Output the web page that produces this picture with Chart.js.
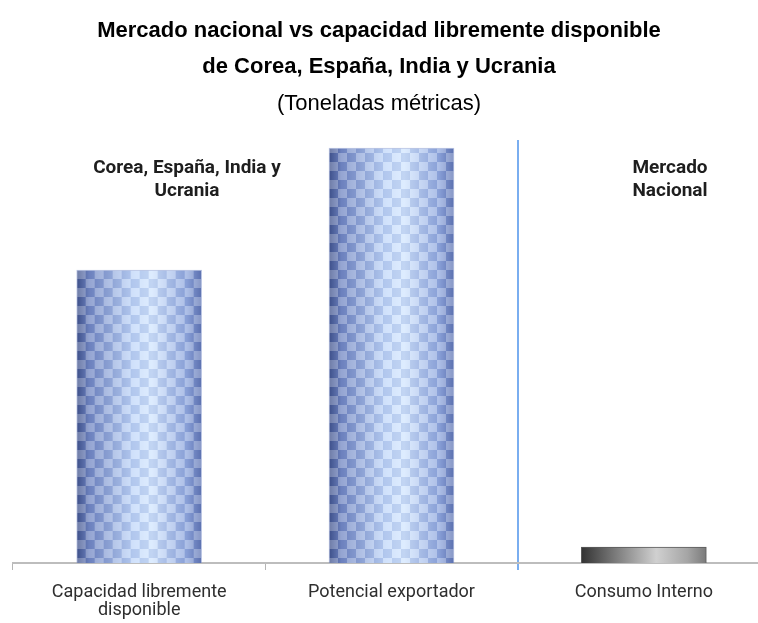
<!DOCTYPE html>
<html>
<head>
<meta charset="utf-8">
<script src="https://cdn.jsdelivr.net/npm/chart.js@4.4.1/dist/chart.umd.min.js"></script>
<style>
  html, body { margin: 0; padding: 0; background: #ffffff; overflow: hidden; }
  #wrap { position: relative; width: 758px; height: 623px; overflow: hidden; }
  #c { position: absolute; left: 0; top: 0; }
  .t { position: absolute; left: 0; width: 758px; text-align: center; color: #000;
       font-family: "Liberation Sans", Arial, sans-serif; white-space: nowrap; }
  .ann { position: absolute; text-align: center; color: #1e1e1e; font-weight: bold;
         font-family: Roboto, "Liberation Sans", sans-serif;
         font-size: 19px; line-height: 23px; white-space: nowrap; }
</style>
</head>
<body>
<div id="wrap">
  <canvas id="c" width="770" height="623"></canvas>
  <div class="t" style="top:17px;font-size:22px;font-weight:bold;">Mercado nacional vs capacidad libremente disponible</div>
  <div class="t" style="top:53px;font-size:22px;font-weight:bold;">de Corea, España, India y Ucrania</div>
  <div class="t" style="top:90px;font-size:22px;">(Toneladas métricas)</div>
  <div class="ann" style="left:77px;top:155px;width:220px;">Corea, España, India y<br>Ucrania</div>
  <div class="ann" style="left:605px;top:155px;width:130px;">Mercado<br>Nacional</div>
</div>
<script>
// Data (relative tonnage; no value axis is shown)
const categories = [["Capacidad libremente", "disponible"], "Potencial exportador", "Consumo Interno"];
const values = [2930, 4150, 160];
const valueMax = 4230;

function blueChecker(ctx, left, width) {
  const tile = document.createElement('canvas');
  const cell = 9;
  tile.width = Math.max(1, Math.round(width));
  tile.height = cell * 2;
  const t = tile.getContext('2d');
  const g = t.createLinearGradient(0, 0, tile.width, 0);
  g.addColorStop(0, '#41538a');
  g.addColorStop(0.1, '#7489c4');
  g.addColorStop(0.45, '#c2d8fa');
  g.addColorStop(0.6, '#d4e7ff');
  g.addColorStop(0.88, '#94abe0');
  g.addColorStop(1, '#6277b4');
  t.fillStyle = g;
  t.fillRect(0, 0, tile.width, tile.height);
  for (let r = 0; r < 2; r++) {
    for (let c = 0; c * cell < tile.width; c++) {
      t.fillStyle = ((r + c) % 2 === 0) ? 'rgba(255,255,255,0.24)' : 'rgba(40,60,140,0.10)';
      t.fillRect(c * cell, r * cell, cell, cell);
    }
  }
  const p = ctx.createPattern(tile, 'repeat');
  if (p.setTransform) p.setTransform(new DOMMatrix().translate(left, 0));
  return p;
}

function grayBar(ctx, left, width) {
  const g = ctx.createLinearGradient(left, 0, left + width, 0);
  g.addColorStop(0, '#333333');
  g.addColorStop(0.25, '#757575');
  g.addColorStop(0.6, '#d0d0d0');
  g.addColorStop(0.85, '#a5a5a5');
  g.addColorStop(1, '#7a7a7a');
  return g;
}

const BAR_W = 125;

const chart = new Chart(document.getElementById('c'), {
  type: 'bar',
  data: {
    labels: categories,
    datasets: [{
      data: values,
      barThickness: BAR_W,
      borderSkipped: 'bottom',
      borderWidth: 1,
      borderColor: (ctx) => ctx.dataIndex === 2 ? '#5a5a5a' : 'rgba(120,140,200,0.5)',
      backgroundColor: (ctx) => {
        const chart = ctx.chart;
        const xs = chart.scales && chart.scales.x;
        if (!xs || !chart.chartArea) return ctx.dataIndex === 2 ? '#999' : '#a8c0ee';
        const cx = xs.getPixelForValue(ctx.dataIndex);
        const left = cx - BAR_W / 2;
        return ctx.dataIndex === 2 ? grayBar(chart.ctx, left, BAR_W) : blueChecker(chart.ctx, left, BAR_W);
      }
    }]
  },
  options: {
    responsive: false,
    animation: false,
    layout: { padding: { top: 140, left: 13, right: 0, bottom: 0 } },
    plugins: { legend: { display: false }, tooltip: { enabled: false }, title: { display: false } },
    scales: {
      x: {
        offset: true,
        grid: {
          offset: true,
          drawOnChartArea: true,
          color: (c) => c.index === 2 ? '#7aaef0' : 'rgba(0,0,0,0)',
          tickColor: (c) => c.index === 2 ? '#7aaef0' : '#b5b5b5',
          lineWidth: (c) => c.index === 2 ? 2 : 1,
          tickLength: 7
        },
        border: { display: true, color: '#bdbdbd', width: 2 },
        ticks: {
          color: '#2e2e2e',
          padding: 13,
          maxRotation: 0,
          autoSkip: false,
          font: { family: 'Roboto, "Liberation Sans", sans-serif', size: 18, lineHeight: 1.0 }
        },
        afterFit: (s) => { s.height = 60; }
      },
      y: {
        display: false,
        min: 0,
        max: valueMax
      }
    }
  }
});
</script>
</body>
</html>
